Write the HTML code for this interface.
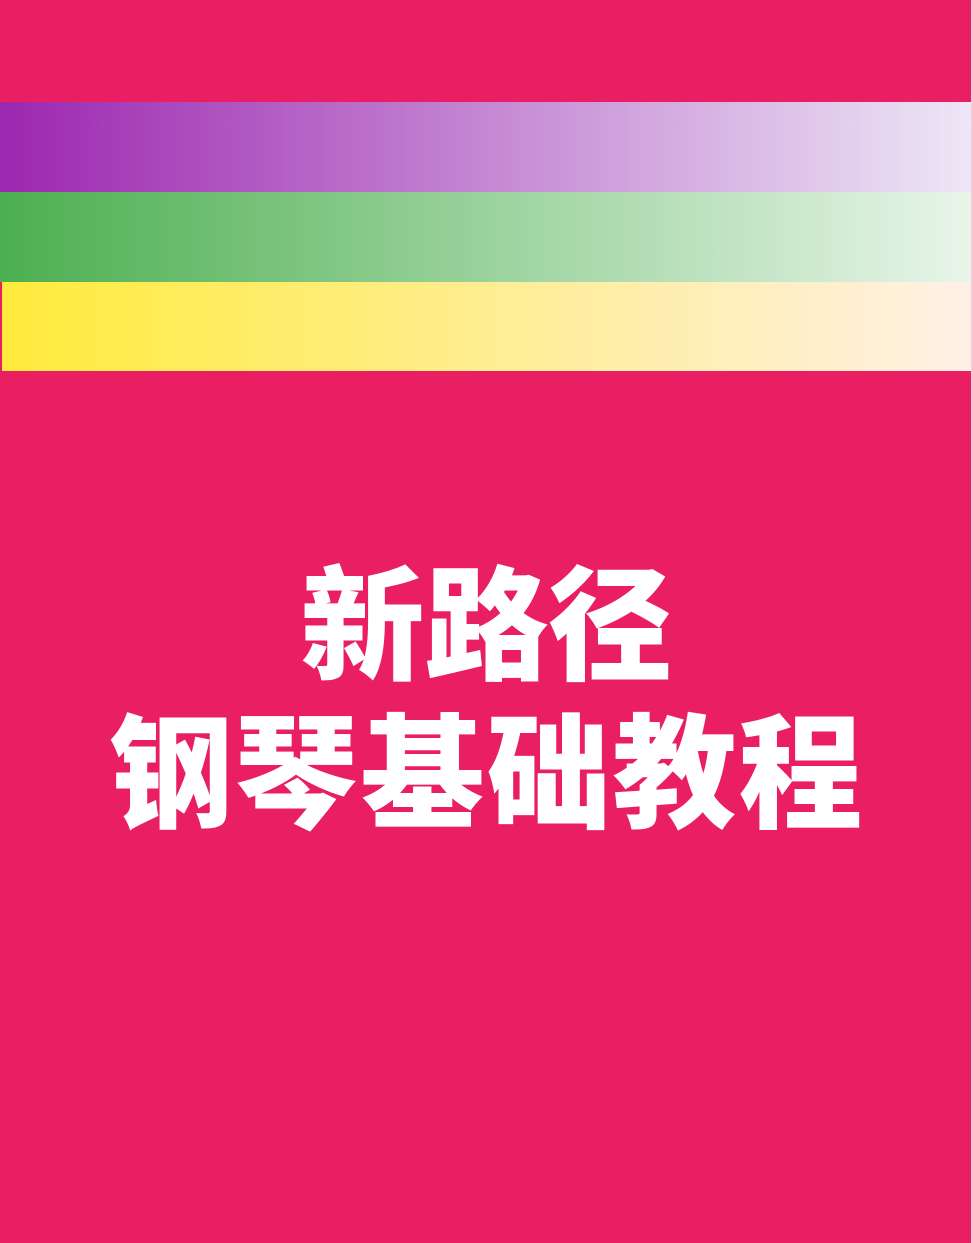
<!DOCTYPE html>
<html><head><meta charset="utf-8">
<style>
html,body{margin:0;padding:0}
body{width:973px;height:1243px;background:#e91e63;position:relative;overflow:hidden}
.edge{position:absolute;right:0;top:0;width:2px;height:1243px;background:#f8c8d8}
.stripe{position:absolute;left:0;width:971px;height:90px}
#s1{top:102px;background:linear-gradient(to right,#9c27b0,#ede7f6)}
#s2{top:192px;background:linear-gradient(to right,#4caf50,#e8f5e9)}
#s3{top:282px;height:89px;left:2px;width:969px;background:linear-gradient(to right,#ffeb3b,#fff0e6)}
.t{position:absolute;left:0;width:973px;text-align:center;color:#fff;font-family:"Liberation Sans","Noto Sans CJK SC",sans-serif;font-weight:900;font-size:124px;line-height:1;white-space:nowrap}
#t1{top:566px}
#t2{top:714px;letter-spacing:2px}
</style></head>
<body>
<div class="edge"></div>
<div class="stripe" id="s1"></div>
<div class="stripe" id="s2"></div>
<div class="stripe" id="s3"></div>
<div class="t" id="t1">新路径</div>
<div class="t" id="t2">钢琴基础教程</div>
</body></html>
